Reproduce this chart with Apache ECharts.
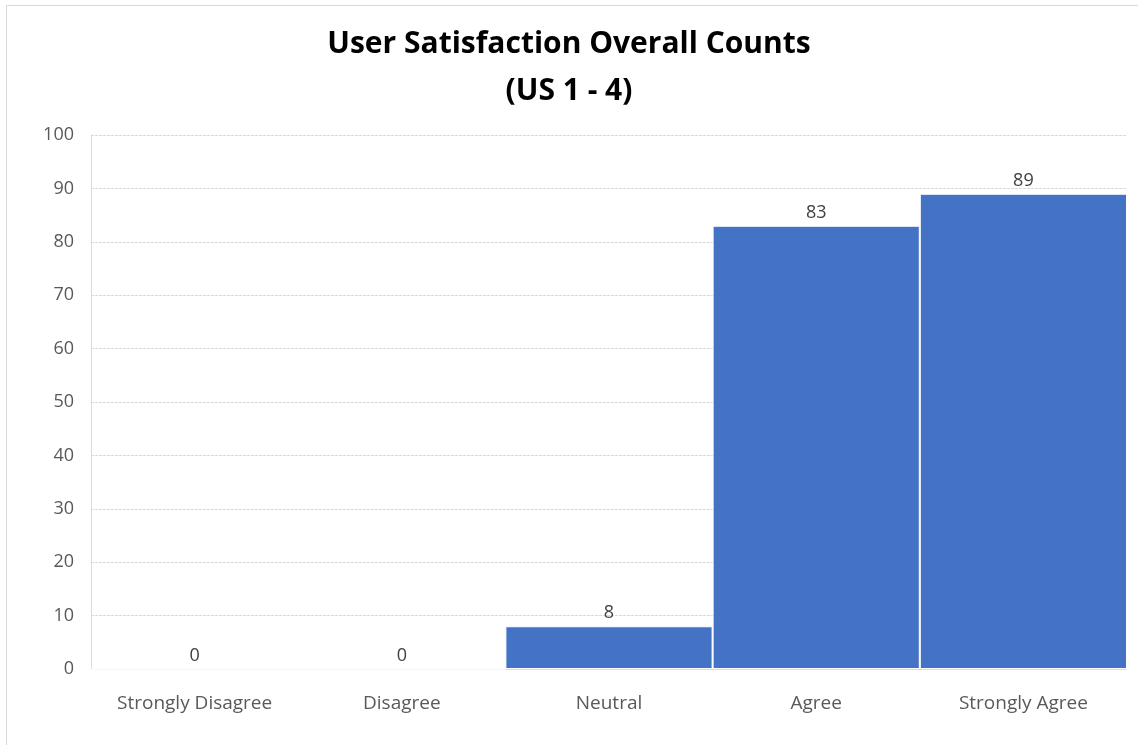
<!DOCTYPE html>
<html>
<head>
<meta charset="utf-8">
<script src="https://cdn.jsdelivr.net/npm/echarts@6/dist/echarts.min.js"></script>
<style>
  html, body { margin: 0; padding: 0; background: #fff; }
  #frame { position: absolute; left: 6px; top: 5px; width: 1140px; height: 750px; border-left: 1px solid #d9d9d9; border-top: 1px solid #d9d9d9; }
  #chart { position: absolute; left: 0; top: 0; width: 1138px; height: 745px; }
</style>
</head>
<body>
<div id="frame"></div>
<div id="chart"></div>
<script>
// Response categories and overall counts
const categories = ['Strongly Disagree', 'Disagree', 'Neutral', 'Agree', 'Strongly Agree'];
const counts = [0, 0, 8, 83, 89];
const titleLines = ['User Satisfaction Overall Counts', '(US 1 - 4)'];

const chart = echarts.init(document.getElementById('chart'), null, { renderer: 'canvas' });
const labelFont = '"Open Sans", "Liberation Sans", sans-serif';
const gridLine = { color: '#d9d9d9', width: 1, type: [3, 1] };

chart.setOption({
  animation: false,
  backgroundColor: 'transparent',
  title: {
    text: titleLines.join('\n'),
    left: 'center',
    top: 16,
    textStyle: {
      fontFamily: labelFont,
      fontWeight: 'bold',
      fontSize: 30,
      lineHeight: 47,
      color: '#000'
    }
  },
  grid: { left: 91, right: 11, top: 135, bottom: 76, containLabel: false },
  xAxis: {
    type: 'category',
    data: categories,
    axisLine: { show: true, lineStyle: gridLine },
    axisTick: { show: false },
    axisLabel: { interval: 0, color: '#595959', fontSize: 19, fontFamily: labelFont, margin: 25 }
  },
  yAxis: {
    type: 'value',
    min: 0,
    max: 100,
    interval: 10,
    axisLine: { show: true, lineStyle: gridLine },
    axisTick: { show: false },
    splitLine: { show: true, lineStyle: gridLine },
    axisLabel: { color: '#595959', fontSize: 18, fontFamily: labelFont, margin: 17 }
  },
  series: [{
    type: 'bar',
    data: counts,
    barCategoryGap: '0%',
    itemStyle: { color: '#4472C4', borderColor: '#ffffff', borderWidth: 1 },
    label: {
      show: true,
      position: 'top',
      distance: 4,
      color: '#404040',
      fontSize: 18,
      fontFamily: labelFont
    }
  }]
});
</script>
</body>
</html>
